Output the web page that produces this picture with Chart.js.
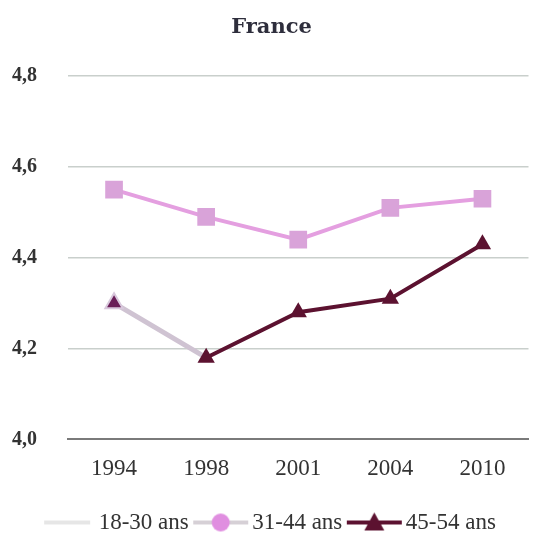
<!DOCTYPE html>
<html>
<head>
<meta charset="utf-8">
<script src="https://cdn.jsdelivr.net/npm/chart.js@4"></script>
<style>
  html, body { margin: 0; padding: 0; background: #fff; }
  #wrap { width: 541px; height: 538px; }
</style>
</head>
<body>
<div id="wrap"><canvas id="chart"></canvas></div>
<script>
var years = ['1994', '1998', '2001', '2004', '2010'];
var yTicks = [4.0, 4.2, 4.4, 4.6, 4.8];
var ans18_30 = [null, null, null, null, null];
var ans31_44 = [4.55, 4.49, 4.44, 4.51, 4.53];
var ans45_54 = [4.30, 4.18, 4.28, 4.31, 4.43];

var pinkLine = '#e49fe0';
var pinkMark = '#d9a3d9';
var darkLine = '#5c1230';
var lightSeg = '#cfc3d2';

// little legend pictures: line with a marker in the middle
function legendIcon(color, markColor, shape, w) {
    var c = document.createElement('canvas');
    c.width = w; c.height = 24;
    var g = c.getContext('2d');
    g.strokeStyle = color;
    g.lineWidth = 4;
    g.beginPath(); g.moveTo(2, 12); g.lineTo(w - 2, 12); g.stroke();
    g.fillStyle = markColor;
    if (shape == 'circle') {
        g.beginPath(); g.arc(w / 2, 12, 9, 0, Math.PI * 2); g.fill();
    } else if (shape == 'triangle') {
        g.beginPath(); g.moveTo(w / 2, 2); g.lineTo(w / 2 + 10, 20); g.lineTo(w / 2 - 10, 20); g.closePath(); g.fill();
    }
    return c;
}

var icons = [
    legendIcon('#e6e6e6', '#e6e6e6', 'none', 50),
    legendIcon('#d6d0d6', '#e08ee0', 'circle', 59),
    legendIcon(darkLine, darkLine, 'triangle', 59)
];

var ctx = document.getElementById('chart');
const myChart = new Chart(ctx, {
    type: 'line',
    data: {
        labels: years,
        datasets: [{
            data: ans18_30,
            label: '18-30 ans',
            borderColor: '#e6e6e6',
            pointRadius: 0
        },
        {
            data: ans31_44,
            label: '31-44 ans',
            borderColor: pinkLine,
            borderWidth: 4,
            tension: 0,
            pointStyle: 'rect',
            pointRadius: 12.5,
            pointBackgroundColor: pinkMark,
            pointBorderColor: pinkMark,
            pointBorderWidth: 0
        },
        {
            data: ans45_54,
            label: '45-54 ans',
            borderColor: darkLine,
            borderWidth: 4,
            tension: 0,
            segment: {
                borderColor: function(c) { return c.p0DataIndex === 0 ? lightSeg : darkLine; },
                borderWidth: function(c) { return c.p0DataIndex === 0 ? 5 : 4; }
            },
            pointStyle: 'triangle',
            pointRadius: 10,
            pointBackgroundColor: ['#6a1e58', darkLine, darkLine, darkLine, darkLine],
            pointBorderColor: ['#d8c8dc', darkLine, darkLine, darkLine, darkLine],
            pointBorderWidth: [2, 0, 0, 0, 0]
        }],
    },
    options: {
        responsive: true,
        maintainAspectRatio: false,
        animation: false,
        layout: { padding: { left: 12, right: 10, top: 0, bottom: -6 } },
        plugins: {
            title: {
                display: true,
                text: 'France',
                color: '#2e2e3c',
                font: { family: 'DejaVu Serif', size: 21, weight: 'bold' },
                padding: { top: 15, bottom: 36 }
            },
            legend: {
                position: 'bottom',
                labels: {
                    color: '#333',
                    font: { family: 'Liberation Serif', size: 23 },
                    usePointStyle: true,
                    pointStyleWidth: 40,
                    padding: 12,
                    generateLabels: function(chart) {
                        return chart.data.datasets.map(function(ds, i) {
                            return {
                                text: ds.label,
                                pointStyle: icons[i],
                                fontColor: '#333',
                                lineWidth: 0,
                                datasetIndex: i
                            };
                        });
                    }
                }
            },
            tooltip: { enabled: false }
        },
        scales: {
            x: {
                offset: true,
                grid: { display: false, drawTicks: false, offset: true },
                border: { color: '#7a7a7a', width: 2 },
                ticks: {
                    color: '#333',
                    padding: 16,
                    font: { family: 'Liberation Serif', size: 23 }
                }
            },
            y: {
                min: 4.0,
                max: 4.8,
                afterFit: function(scale) { scale.width = 56; },
                afterBuildTicks: function(scale) {
                    scale.ticks = yTicks.map(function(v) { return { value: v }; });
                },
                grid: {
                    color: function(c) { return c.tick && c.tick.value === 4.0 ? 'rgba(0,0,0,0)' : '#c9cfcc'; },
                    lineWidth: 1.5,
                    drawTicks: false
                },
                border: { display: false },
                ticks: {
                    color: '#333',
                    padding: 12,
                    crossAlign: 'far',
                    font: { family: 'Liberation Serif', size: 20, weight: 'bold' },
                    callback: function(v) { return v.toFixed(1).replace('.', ','); }
                }
            }
        },
    }
});
</script>
</body>
</html>
